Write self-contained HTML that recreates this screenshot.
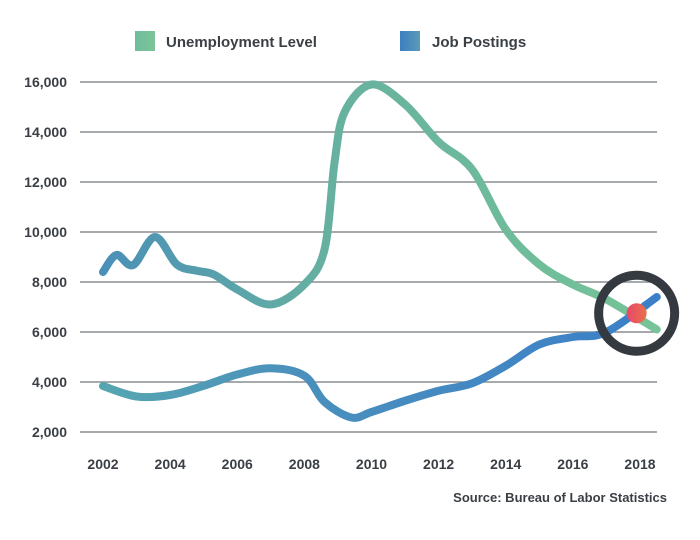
<!DOCTYPE html>
<html><head><meta charset="utf-8"><style>
body{margin:0;background:#fff;}
svg text{font-family:"Liberation Sans",sans-serif;font-weight:bold;fill:#3a3f45;}
</style></head><body>
<svg width="700" height="535">
<defs>
<linearGradient id="gu" gradientUnits="userSpaceOnUse" x1="100" y1="0" x2="660" y2="0"><stop offset="0" stop-color="#4a8fb8"/><stop offset="0.4" stop-color="#66b0a0"/><stop offset="1" stop-color="#76c497"/></linearGradient>
<linearGradient id="gj" gradientUnits="userSpaceOnUse" x1="100" y1="0" x2="660" y2="0"><stop offset="0" stop-color="#56a6b0"/><stop offset="0.35" stop-color="#4a90bc"/><stop offset="1" stop-color="#3b7fc8"/></linearGradient>
<linearGradient id="gd" x1="0" y1="0" x2="1" y2="0"><stop offset="0" stop-color="#e8476a"/><stop offset="1" stop-color="#e8704a"/></linearGradient>
<linearGradient id="lu" x1="0" x2="1"><stop offset="0" stop-color="#6dbd9c"/><stop offset="1" stop-color="#7cc49a"/></linearGradient>
<linearGradient id="lj" x1="0" x2="1"><stop offset="0" stop-color="#3c7fc0"/><stop offset="1" stop-color="#5a9ab8"/></linearGradient>
</defs>
<g>
<rect x="135" y="31" width="20" height="20" fill="url(#lu)"/>
<text x="166" y="47" font-size="15">Unemployment Level</text>
<rect x="400" y="31" width="20" height="20" fill="url(#lj)"/>
<text x="432" y="47" font-size="15">Job Postings</text>
</g>
<g id="grid"></g>
<g id="yax"></g>
<g id="xax"></g>
<path id="pu" fill="none" stroke="url(#gu)" stroke-width="8" stroke-linecap="round"/>
<path id="pj" fill="none" stroke="url(#gj)" stroke-width="8" stroke-linecap="round"/>
<circle id="ring" r="38" fill="none" stroke="#343a40" stroke-width="9"/>
<circle id="dot" r="10" fill="url(#gd)"/>
<text x="667" y="502" font-size="13" text-anchor="end">Source: Bureau of Labor Statistics</text>
</svg>
<script>
const yTicks=[2000,4000,6000,8000,10000,12000,14000,16000];
const xTicks=[2002,2004,2006,2008,2010,2012,2014,2016,2018];
const unempYears=[2002,2002.4,2002.9,2003.55,2004.2,2004.8,2005.3,2006,2007,2008,2008.6,2008.9,2009.2,2010,2011,2012,2013,2014,2015,2016,2017,2018.5];
const unempValues=[8400,9080,8680,9800,8700,8450,8300,7700,7100,7900,9300,12800,14800,15900,15100,13600,12500,10100,8700,7900,7300,6100];
const jobYears=[2002,2003,2004,2005,2006,2007,2008,2008.6,2009.4,2010,2011,2012,2013,2014,2015,2016,2017,2018.5];
const jobValues=[3840,3420,3480,3850,4300,4550,4250,3200,2580,2800,3250,3650,3950,4650,5500,5800,6000,7400];
const crossYear=[2017.9], crossValue=[6750];
const X=y=>103+(y-2002)*(537/16);
const Y=v=>432-(v-2000)*0.025;
const NS="http://www.w3.org/2000/svg";
const grid=document.getElementById('grid'),yax=document.getElementById('yax'),xax=document.getElementById('xax');
yTicks.forEach(t=>{
 const l=document.createElementNS(NS,'line');
 l.setAttribute('x1',80);l.setAttribute('x2',657);l.setAttribute('y1',Y(t));l.setAttribute('y2',Y(t));
 l.setAttribute('stroke','#8a8d90');l.setAttribute('stroke-width','1.5');
 
 
 grid.appendChild(l);
 const tx=document.createElementNS(NS,'text');
 tx.setAttribute('x',67);tx.setAttribute('y',Y(t)+5);tx.setAttribute('text-anchor','end');tx.setAttribute('font-size','14');
 tx.textContent=t.toLocaleString('en-US');
 
 
 yax.appendChild(tx);
});
xTicks.forEach(t=>{
 const tx=document.createElementNS(NS,'text');
 tx.setAttribute('x',X(t));tx.setAttribute('y',469);tx.setAttribute('text-anchor','middle');tx.setAttribute('font-size','14');
 tx.textContent=t;
 
 
 xax.appendChild(tx);
});
function smooth(xs,vs){
 const p=xs.map((x,i)=>[X(x),Y(vs[i])]);
 let d='M'+p[0][0]+','+p[0][1];
 for(let i=0;i<p.length-1;i++){
  const p0=p[Math.max(0,i-1)],p1=p[i],p2=p[i+1],p3=p[Math.min(p.length-1,i+2)];
  const c1=[p1[0]+(p2[0]-p0[0])/6,p1[1]+(p2[1]-p0[1])/6];
  const c2=[p2[0]-(p3[0]-p1[0])/6,p2[1]-(p3[1]-p1[1])/6];
  d+=' C'+c1+' '+c2+' '+p2;
 }
 return d;
}
document.getElementById('pu').setAttribute('d',smooth(unempYears,unempValues));
document.getElementById('pj').setAttribute('d',smooth(jobYears,jobValues));
['ring','dot'].forEach(id=>{const c=document.getElementById(id);c.setAttribute('cx',X(crossYear[0]));c.setAttribute('cy',Y(crossValue[0]));});
</script>
</body></html>
